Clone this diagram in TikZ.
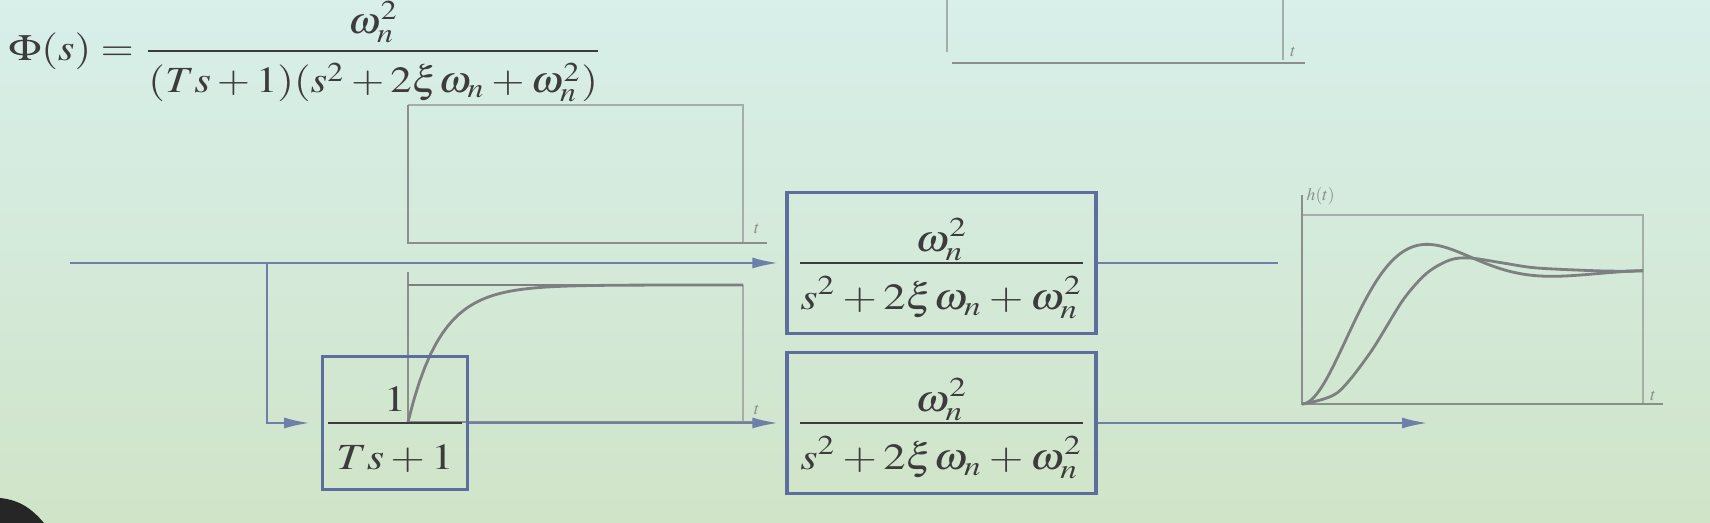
\documentclass[tikz,border=0pt]{standalone}
\usepackage{amsmath}
\usepackage{mathptmx}
\usepackage{graphicx}
\usetikzlibrary{arrows.meta,positioning,calc}
\definecolor{slidetop}{HTML}{D8EFEA}
\definecolor{slidebot}{HTML}{D0E4C8}
\definecolor{sigblue}{HTML}{6E7FA8}
\definecolor{boxblue}{HTML}{5D6D9E}
\definecolor{inkgray}{HTML}{3C3C3C}
\definecolor{axisgray}{HTML}{8A8E8C}
\definecolor{faintgray}{HTML}{A6AEAA}
\newcommand{\slidetext}[2][1.21]{\scalebox{#1}[1]{#2}}
\newcommand{\blockfrac}[2]{\genfrac{}{}{}{1}{\displaystyle\rule[-2.5pt]{0pt}{0pt}#1}{\displaystyle\rule{0pt}{12.7pt}#2}}
\tikzset{
  slideFont/.style={font=\fontsize{10.5}{12}\selectfont, text=inkgray, text height=5.2pt, text depth=0pt},
  blockBox/.style={draw=boxblue, line width=0.9pt, minimum width=30.9mm, minimum height=14.1mm, inner sep=0pt, slideFont},
  lagBox/.style={draw=boxblue, line width=0.9pt, minimum width=14.4mm, minimum height=13.3mm, inner sep=0pt, slideFont},
  sigLine/.style={draw=sigblue, line width=0.75pt},
  sigArrow/.style={sigLine, -{Latex[length=2.6mm,width=1.1mm]}, shorten >=0.7mm},
  plotAxis/.style={draw=axisgray, line width=0.6pt},
  plotFrame/.style={draw=faintgray, line width=0.5pt},
  respCurve/.style={draw=axisgray!90!black, line width=0.8pt},
  tickLabel/.style={font=\tiny, text=axisgray, inner sep=0pt}
}
\begin{document}
\begin{tikzpicture}[x=0.1mm, y=-0.1mm]
  % slide background
  \shade[top color=slidetop, bottom color=slidebot] (0,0) rectangle (1710,523);
  \useasboundingbox (0,0) rectangle (1710,523);
  \fill[black!85] (0,498) .. controls (20,500) and (32,509) .. (44,523) -- (0,523) -- cycle;

  % closed-loop formula
  \node[slideFont, anchor=west, inner sep=0pt] (phi) at (8,51)
    {\slidetext[1.16]{$\Phi(s)=\dfrac{\rule[-3.6pt]{0pt}{0pt}\omega_n^2}{\rule{0pt}{10.3pt}(Ts+1)(s^2+2\xi\omega_n+\omega_n^2)}$}};

  % plot fragments behind the blocks
  \draw[plotFrame] (947,0) -- (947,52);
  \draw[plotFrame] (1283,0) -- (1283,60);
  \draw[plotAxis] (952,63) -- (1305,63);
  \node[tickLabel] at (1293,52) {$t$};

  \draw[plotFrame] (408,105) -- (743,105) -- (743,243);
  \draw[plotAxis] (408,105) -- (408,243) -- (767,243);
  \node[tickLabel] at (757,229) {$t$};

  \draw[plotFrame] (743,285) -- (743,422);
  \draw[plotAxis] (408,272) -- (408,422) -- (767,422);
  \draw[respCurve] (408,285) -- (743,285);
  \draw[respCurve] plot[domain=0:335, samples=60] ({408+\x}, {422-137*(1-exp(-\x/33))});
  \node[tickLabel] at (757,410) {$t$};

  % output responses
  \draw[plotFrame] (1302,215) -- (1643,215) -- (1643,404);
  \draw[plotAxis] (1302,195) -- (1302,404) -- (1663,404);
  \node[tickLabel, anchor=west] at (1306,196) {$h(t)$};
  \node[tickLabel] at (1653,396) {$t$};
  \draw[respCurve] plot[domain=0:341, samples=120]
    ({1302+\x}, {404-133*(1-exp(-0.01287*\x)*(cos(0.02513*\x r)+0.512*sin(0.02513*\x r)))});
  \draw[respCurve] plot[smooth] coordinates {(1302,404) (1337,393) (1370,353) (1403,300) (1427,273)
    (1450,260) (1470,258) (1503,263) (1537,268) (1603,271) (1643,271)};

  % blocks
  \node[blockBox] (osc1) at (941.5,263)
    {\slidetext{$\blockfrac{\omega_n^2}{s^2+2\xi\omega_n+\omega_n^2}$}};
  \node[blockBox] (osc2) at (941.5,423)
    {\slidetext{$\blockfrac{\omega_n^2}{s^2+2\xi\omega_n+\omega_n^2}$}};
  \node[lagBox] (lag) at (395,423)
    {\slidetext{$\blockfrac{1}{\makebox[11.1mm]{$Ts+1$}}$}};

  \coordinate (in) at (70,263);
  \coordinate (split) at (267,263);
  \coordinate (out1) at (1278,263);
  \coordinate (out2) at (1428,423);

  % connectors
  \draw[sigArrow] (in) -- (osc1);
  \draw[sigArrow, shorten >=1.1mm] (split) |- (lag);
  \draw[sigArrow] (lag) -- (osc2);
  \draw[sigLine] (osc1) -- (out1);
  \draw[sigArrow, shorten >=0pt] (osc2) -- (out2);
\end{tikzpicture}
\end{document}
